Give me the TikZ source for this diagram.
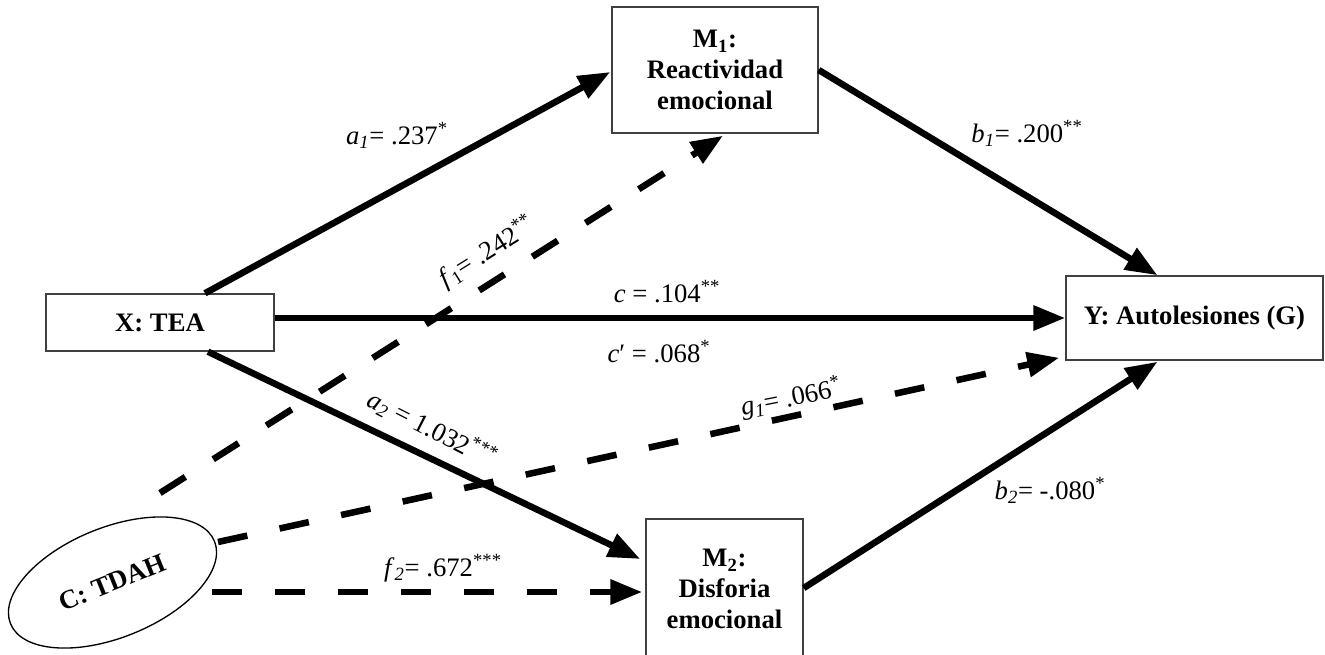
\documentclass[tikz,border=0pt]{standalone}
\usepackage{fontspec}
\setmainfont{Liberation Serif}
\usetikzlibrary{arrows.meta,shapes.geometric,calc}
\begin{document}
\begin{tikzpicture}[x=0.75pt,y=-0.75pt,
  every node/.style={font=\fontsize{20}{23}\selectfont},
  box/.style={draw=black!75, line width=1.1pt, fill=white, align=center,
    font=\fontsize{20}{23}\selectfont\bfseries, inner sep=0pt},
  lbl/.style={inner sep=0pt},
  arr/.style={line width=4.9pt, -{Triangle[length=24pt,width=18pt]}},
  darr/.style={arr, dash pattern=on 22.5pt off 24.75pt},
]
\clip (0,0) rectangle (1325,654);
% nodes
\node[box, minimum width=171pt, minimum height=42.75pt] (X) at (160,322.5) {X: TEA};
\node[box, minimum width=192.75pt, minimum height=63pt] (Y) at (1194.5,318) {Y: Autolesiones (G)};
\node[box, minimum width=154.5pt, minimum height=94.5pt] (M1) at (715,70) {M\textsubscript{1}:\\Reactividad\\emocional};
\node[box, minimum width=117.75pt, minimum height=105pt] (M2) at (724.5,589) {M\textsubscript{2}:\\Disforia\\emocional};
\node[draw=black, line width=1pt, ellipse, rotate=22, minimum width=165pt, minimum height=82.5pt,
  inner sep=0pt, font=\fontsize{20}{23}\selectfont\bfseries] (C) at (112.5,582.5) {C: TDAH};
% free ends of the dashed paths
\coordinate (cf1) at (160,493);
\coordinate (cg1) at (218,542);
\coordinate (cf2) at (212,592);
% solid paths
\draw[arr] ($(X.north)+(45,0)$) -- ($(M1.west)+(-1,2)$);
\draw[arr] (M1.east) -- ($(Y.north)+(-37,0)$);
\draw[arr] (X.east |- Y.west) -- (Y.west);
\draw[arr] ($(X.south)+(48,0)$) -- ($(M2.west)+(-5,-30)$);
\draw[arr] ($(M2.east)+(0,-1)$) -- ($(Y.south)+(-37,1)$);
% dashed paths
\draw[darr] (cf1) -- ($(M1.south)+(8,2)$);
\draw[darr] (cg1) -- ($(Y.south west)+(-6,-3)$);
\draw[darr] (cf2) -- ($(M2.west)+(-3,3)$);
% labels
\node[lbl] (la1) at (397,135) {\textit{a}\textsubscript{\textit{1}}= .237\textsuperscript{*}};
\node[lbl] (lb1) at (1027,133) {\textit{b}\textsubscript{\textit{1}}= .200\textsuperscript{**}};
\node[lbl] (lc) at (667,292) {\textit{c} = .104\textsuperscript{**}};
\node[lbl] (lcp) at (659,352) {\textit{c}′ = .068\textsuperscript{*}};
\node[lbl, rotate=11] (lg1) at (791,398) {\textit{g}\textsubscript{\textit{1}}= .066\textsuperscript{*}};
\node[lbl, rotate=32] (lf1) at (487,252) {\textit{f}\textsubscript{1}= .242\textsuperscript{**}};
\node[lbl, rotate=-27] (la2) at (432,429) {\textit{a}\textsubscript{\textit{2}} = 1.032\textsuperscript{***}};
\node[lbl] (lb2) at (1050,490) {\textit{b}\textsubscript{\textit{2}}= -.080\textsuperscript{*}};
\node[lbl] (lf2) at (443,568) {\textit{f}\textsubscript{\textit{2}}= .672\textsuperscript{***}};
\end{tikzpicture}
\end{document}
